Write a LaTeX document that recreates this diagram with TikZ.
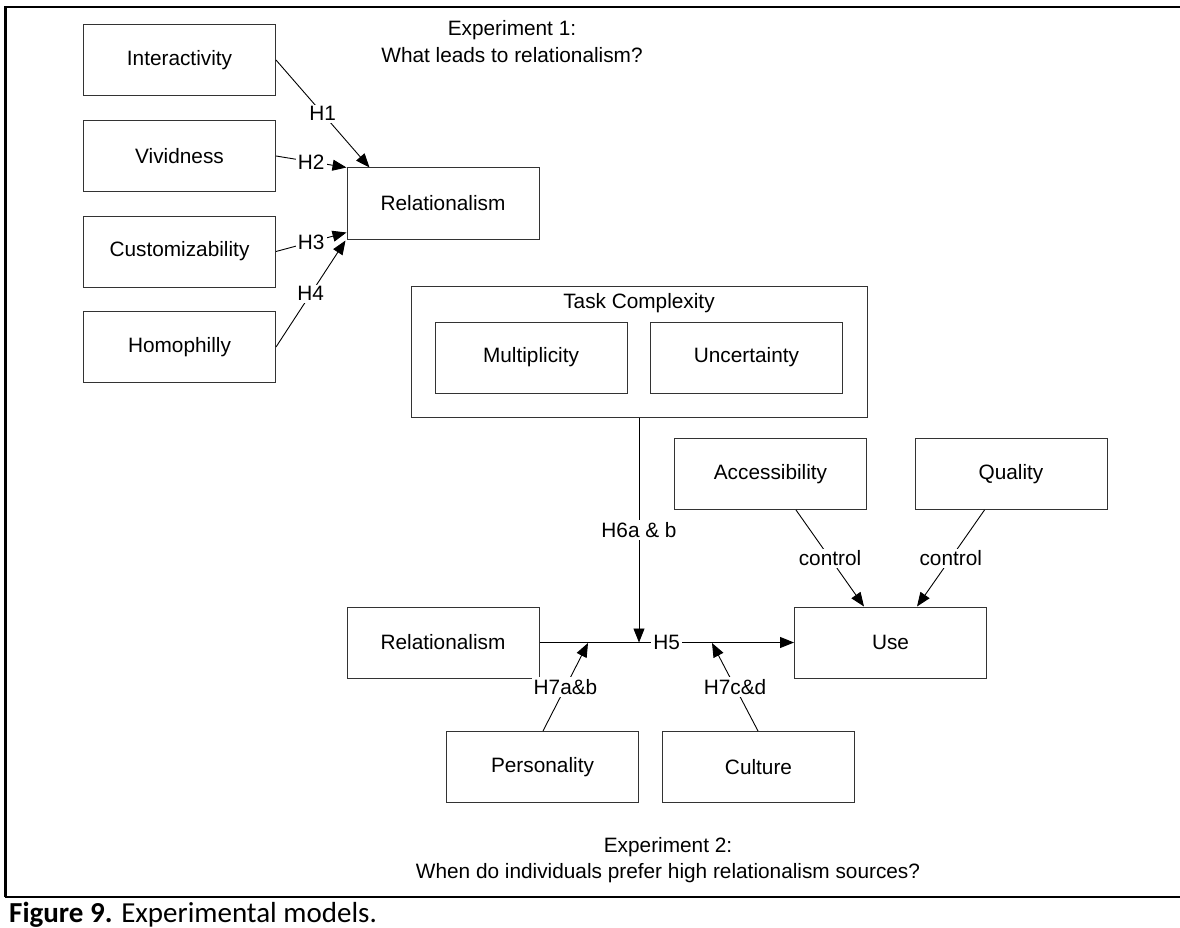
\documentclass[tikz,border=0pt]{standalone}
\usepackage{fontspec}
\setmainfont{Liberation Sans}
\newfontfamily\capfont{Carlito}
\usetikzlibrary{arrows.meta,calc}

\begin{document}
\begin{tikzpicture}[x=1pt,y=-1pt,
  txt/.style={font=\fontsize{20.8}{25}\selectfont},
  box/.style={txt, draw=black!80, line width=1pt, minimum width=192pt,
              minimum height=71pt, inner sep=0pt},
  lbl/.style={txt, fill=white, inner sep=2pt},
  link/.style={line width=0.9pt, -{Triangle[length=14pt,width=11pt]}},
  frameline/.style={line width=2.6pt}]

\useasboundingbox (0,0) rectangle (1180,928);

% outer frame and caption rule
\draw[frameline] (5.5,897) -- (5.5,7) -- (1180,7);
\draw[frameline] (5,897) -- (1180,897);

% experiment 1
\node[txt] (exp1a) at (512,30) {Experiment 1:};
\node[txt] (exp1b) at (512,55) {What leads to relationalism?};

\node[box] (inter)  at (179.5,60)    {Interactivity};
\node[box] (vivid)  at (179.5,156)   {Vividness};
\node[box] (custom) at (179.5,251.5) {Customizability};
\node[box] (homo)   at (179.5,347)   {Homophilly};
\node[box] (rel1)   at (443,203.5)   {Relationalism};

\coordinate (r1a) at ($(rel1.north west)+(23,0)$);
\coordinate (r1b) at ($(rel1.north west)+(0,0)$);
\coordinate (r1c) at ($(rel1.south west)+(0,-7)$);
\coordinate (r1d) at ($(rel1.south west)+(-1,1)$);

\draw[link] (inter.east)  -- node[lbl] {H1} (r1a);
\draw[link] (vivid.east)  -- node[lbl] {H2} (r1b);
\draw[link] (custom.east) -- node[lbl] {H3} (r1c);
\draw[link] (homo.east)   -- node[lbl] {H4} (r1d);

% experiment 2
\node[box, minimum width=456pt, minimum height=131pt] (tc) at (639,351.5) {};
\node[txt] (tctitle) at (639,303) {Task Complexity};
\node[box] (multi)   at (531,357.5)   {Multiplicity};
\node[box] (uncert)  at (746.5,357.5) {Uncertainty};

\node[box] (access)  at (770.5,474)   {Accessibility};
\node[box] (quality) at (1011,474)    {Quality};
\node[box] (use)     at (890.5,642.5) {Use};
\node[box] (rel2)    at (443,642.5)   {Relationalism};
\node[box] (person)  at (542.5,767)   {Personality};
\node[box] (culture) at (758.5,767)   {Culture};

\coordinate (m6)  at (639,642.5);
\coordinate (m7a) at (588,643);
\coordinate (m7c) at (712,643);
\coordinate (ua) at ($(use.north west)+(70,0)$);
\coordinate (ub) at ($(use.north west)+(123,0)$);
\coordinate (pa) at ($(person.north west)+(97,0)$);
\coordinate (ca) at ($(culture.north west)+(96,0)$);
\coordinate (aa) at ($(access.south west)+(122,0)$);
\coordinate (qa) at ($(quality.south west)+(70,0)$);

\draw[link] (rel2.east) -- node[lbl] {H5} (use.west);
\draw[link] (tc.south) -- node[lbl] {H6a \& b} (m6);
\draw[link] (pa) -- node[lbl] {H7a\&b} (m7a);
\draw[link] (ca) -- node[lbl] {H7c\&d} (m7c);
\draw[link] (aa) -- node[lbl] {control} (ua);
\draw[link] (qa) -- node[lbl] {control} (ub);

\node[txt] (exp2a) at (668,847) {Experiment 2:};
\node[txt] (exp2b) at (668,873) {When do individuals prefer high relationalism sources?};

% caption
\node[anchor=base west, inner sep=0pt, font=\capfont\fontsize{29}{33}\selectfont] (cap) at (9,922)
  {\textbf{Figure 9.} Experimental models.};
\end{tikzpicture}
\end{document}
